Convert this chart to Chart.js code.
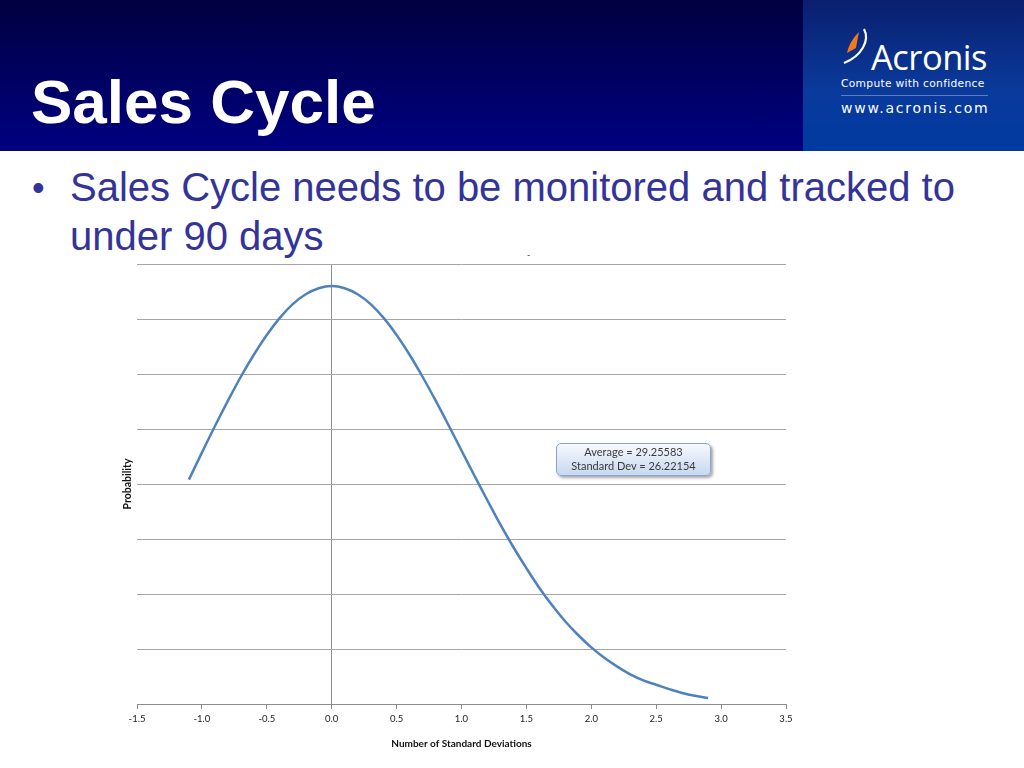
<!DOCTYPE html>
<html>
<head>
<meta charset="utf-8">
<script src="https://cdn.jsdelivr.net/npm/chart.js@4"></script>
<style>
  html, body { margin: 0; padding: 0; background: #fff; }
  body { width: 1024px; height: 768px; position: relative; overflow: hidden; font-family: "Liberation Sans", Arial, sans-serif; }
  #header { position: absolute; left: 0; top: 0; width: 1024px; height: 151px; background: linear-gradient(#000040, #000082); }
  #title { position: absolute; left: 31px; top: 64px; color: #fff; font-weight: bold; font-size: 62px; line-height: 76px; }
  #logo { position: absolute; left: 803px; top: 0; width: 221px; height: 151px; background: linear-gradient(#0a1f6e, #0a3a9c 60%, #003aa0); }
  .lg { position: absolute; color: #fff; white-space: nowrap; }
  #bullet { position: absolute; left: 32px; top: 163px; color: #333399; font-size: 40px; line-height: 49px; }
  #bullet .dot { position: absolute; left: 0; top: 0; font-size: 36px; }
  #bullet .txt { position: absolute; left: 38px; top: 0; white-space: nowrap; }
  #chart { position: absolute; left: 0; top: 0; width: 1024px; height: 768px; }
  #note { position: absolute; left: 556px; top: 443px; width: 153px; height: 30px; border: 1px solid #86a5d6; border-radius: 5px;
          background: linear-gradient(#f6f9fe, #c8d8f0); box-shadow: 2px 2px 3px rgba(0,0,0,0.35);
          font-family: Lato, "Open Sans", sans-serif; font-size: 11px; line-height: 14px; color: #3a3a3a; text-align: center; padding-top: 1px; }
  #dash { position: absolute; left: 527px; top: 249px; font-size: 9px; color: #333; font-family: Lato, sans-serif; }
</style>
</head>
<body>
<div id="header"></div>
<div id="title">Sales Cycle</div>
<div id="logo">
  <svg width="60" height="80" style="position:absolute;left:35px;top:22px" viewBox="0 0 60 80">
    <path d="M21 10 C 15 16, 11 22, 9 31 L 18 26 C 19 20, 20 15, 21 10 Z" fill="#f07a1a"/>
    <path d="M26 7 C 32 18, 24 34, 6 41" stroke="#fff" stroke-width="2.2" fill="none"/>
  </svg>
  <div class="lg" style="left:68px;top:33px;font-size:34.5px;font-family:'Open Sans',sans-serif;letter-spacing:-0.5px">Acronis</div>
  <div class="lg" style="left:38px;top:77px;font-size:10.7px;font-family:'DejaVu Sans',sans-serif;letter-spacing:0.3px">Compute with confidence</div>
  <div style="position:absolute;left:38px;top:95px;width:147px;height:1px;background:rgba(255,255,255,0.35)"></div>
  <div class="lg" style="left:38px;top:100px;font-size:14px;font-family:'DejaVu Sans',sans-serif;letter-spacing:1.75px">www.acronis.com</div>
</div>
<div id="bullet"><span class="dot">•</span><span class="txt">Sales Cycle needs to be monitored and tracked to<br>under 90 days</span></div>
<canvas id="chart" width="1024" height="768"></canvas>
<div id="dash">-</div>
<div id="note">Average = 29.25583<br>Standard Dev = 26.22154</div>
<script>
// number of standard deviations (x) and probability (y, in gridline units)
const stdDevs = [-1.1, -1.0, -0.9, -0.8, -0.7, -0.6, -0.5, -0.4, -0.3, -0.2, -0.1, 0.0,
  0.1, 0.2, 0.3, 0.4, 0.5, 0.6, 0.7, 0.8, 0.9, 1.0, 1.1, 1.2, 1.3, 1.4, 1.5, 1.6,
  1.7, 1.8, 1.9, 2.0, 2.1, 2.2, 2.3, 2.4, 2.5, 2.6, 2.7, 2.8, 2.9];
const probability = [4.08, 4.57, 5.05, 5.51, 5.95, 6.35, 6.71, 7.02, 7.27, 7.45, 7.56, 7.60,
  7.56, 7.45, 7.27, 7.02, 6.71, 6.35, 5.95, 5.52, 5.07, 4.61, 4.15, 3.70, 3.26, 2.85, 2.47, 2.11,
  1.79, 1.50, 1.25, 1.03, 0.84, 0.68, 0.54, 0.43, 0.35, 0.27, 0.20, 0.15, 0.11];
const xMin = -1.5, xMax = 3.5, xStep = 0.5;
const yMin = 0, yMax = 8, yStep = 1;

const points = stdDevs.map((x, i) => ({ x: x, y: probability[i] }));
const axisGrey = '#8c8c8c';

const ctx = document.getElementById('chart').getContext('2d');
const chart = new Chart(ctx, {
  type: 'line',
  data: {
    datasets: [{
      data: points,
      borderColor: '#4f81bd',
      borderWidth: 2.5,
      pointRadius: 0,
      tension: 0.4,
      fill: false
    }]
  },
  options: {
    responsive: false,
    animation: false,
    layout: { padding: { left: 117, top: 264, right: 238, bottom: 14 } },
    plugins: { legend: { display: false }, tooltip: { enabled: false } },
    scales: {
      x: {
        type: 'linear',
        min: xMin, max: xMax,
        afterFit: s => { s.height = 50; },
        ticks: {
          stepSize: xStep,
          padding: 4,
          color: '#222',
          font: { family: "'Liberation Sans Narrow', Lato, sans-serif", size: 9.5 },
          callback: v => v.toFixed(1),
          maxRotation: 0
        },
        grid: {
          color: c => (c.tick && c.tick.value === 0) ? axisGrey : 'transparent',
          tickColor: axisGrey,
          tickLength: 5,
          lineWidth: 1
        },
        border: { color: axisGrey },
        title: {
          display: true,
          text: 'Number of Standard Deviations',
          color: '#111',
          font: { family: "'Liberation Sans Narrow', Lato, sans-serif", size: 10, weight: 'bold' },
          padding: { top: 4, bottom: 4 }
        }
      },
      y: {
        min: yMin, max: yMax,
        afterFit: s => { s.width = 20; },
        ticks: { stepSize: yStep, display: false },
        grid: { color: '#a6a6a6', drawTicks: false, lineWidth: 1 },
        border: { display: false },
        title: {
          display: true,
          text: 'Probability',
          color: '#111',
          font: { family: "'Liberation Sans Narrow', Lato, sans-serif", size: 10.5, weight: 'bold' },
          padding: { top: 4, bottom: 4 }
        }
      }
    }
  }
});
</script>
</body>
</html>
